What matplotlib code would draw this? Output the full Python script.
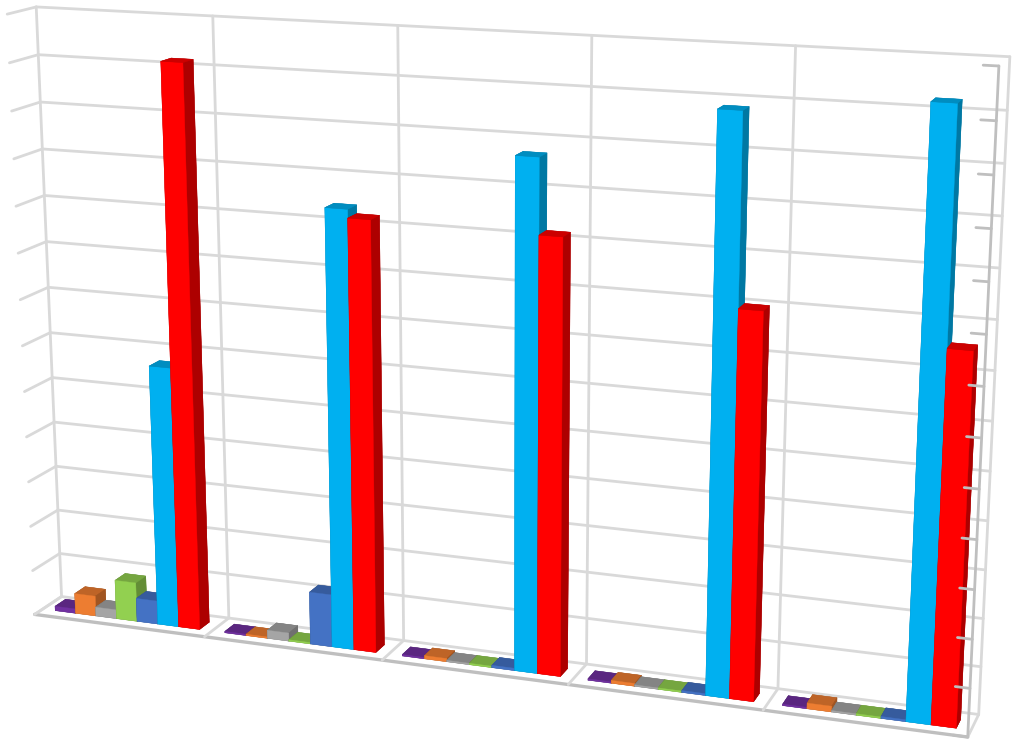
import numpy as np
import matplotlib
matplotlib.use('Agg')
import matplotlib.pyplot as plt
from matplotlib.colors import to_rgb

# значения по группам, высота в делениях оси (подписей на картинке нет)
groups = [0, 1, 2, 3, 4]
series_colors = ['#7030A0', '#ED7D31', '#A5A5A5', '#92D050', '#4472C4', '#00B0F0', '#FF0000']
purple = [0.10, 0.03, 0.03, 0.03, 0.03]
orange = [0.45, 0.03, 0.07, 0.06, 0.12]
gray = [0.20, 0.18, 0.03, 0.03, 0.03]
green = [0.87, 0.03, 0.03, 0.03, 0.03]
blue = [0.52, 1.15, 0.05, 0.04, 0.04]
cyan = [5.72, 9.38, 10.70, 11.85, 12.22]
red = [12.15, 9.20, 9.15, 8.00, 7.57]
series = [purple, orange, gray, green, blue, cyan, red]
n_ticks = 13

GRID = '#D9D9D9'
AXIS = '#BFBFBF'
W, H = 1023, 749

# Калибровка камеры: углы коробки (x, глубина, z) -> пиксели картинки
world_pts = [(0, 1, 13), (1, 1, 13), (2, 1, 13), (3, 1, 13), (4, 1, 13), (5, 1, 13),
             (0, 1, 0), (1, 1, 0), (2, 1, 0), (3, 1, 0), (4, 1, 0), (5, 1, 0),
             (0, 0, 13), (5, 0, 13), (0, 0, 0), (5, 0, 0), (0, 1, 1), (0, 0, 1)]
pixel_pts = [(36, 6), (213, 15), (398, 27), (592, 37), (796, 47), (1010, 55),
             (62, 595), (227, 617), (403, 640), (587, 665), (779, 688), (978, 715),
             (7, 14), (998, 65), (35, 615), (968, 737), (60, 555), (33, 571)]


def fit_camera(world, pixels):
    rows = []
    for (x, y, z), (u, v) in zip(world, pixels):
        u, v = u / 1000, (H - v) / 1000
        rows.append([x, y, z, 1, 0, 0, 0, 0, -u * x, -u * y, -u * z, -u])
        rows.append([0, 0, 0, 0, x, y, z, 1, -v * x, -v * y, -v * z, -v])
    P = np.linalg.svd(np.array(rows, dtype=float))[2][-1].reshape(3, 4)
    if P[2, 3] < 0:
        P = -P
    P[:2] *= 1000
    # третья строка даёт глубину для сортировки граней
    return np.vstack([P[0], P[1], P[2] - np.array([0, 0, 0, 0.5 * P[2, 3]]), P[2]])


def face_colors(hex_color):
    base = np.array(to_rgb(hex_color))
    top = base * 0.8
    side = base * 0.68
    # порядок граней bar3d: низ, верх, перед, зад, лево, право
    return [side, top, base, side, side, side]


def line(ax, xs, ys, zs, color=GRID, lw=2.0, zorder=1):
    ax.plot(xs, ys, zs, color=color, linewidth=lw, zorder=zorder, solid_capstyle='round')


fig = plt.figure(figsize=(W / 100, H / 100), dpi=100)
# mplot3d держит оси квадратными, поэтому квадрат шире фигуры по высоте
ax = fig.add_axes([0, (H - W) / 2 / H, 1, W / H], projection='3d', computed_zorder=False)
ax.set_proj_type('ortho')
ax.set_axis_off()
M = fit_camera(world_pts, pixel_pts)
ax.get_proj = lambda: M

n_groups = len(groups)

# задняя стена
for z in range(n_ticks + 1):
    line(ax, [0, n_groups], [1, 1], [z, z])
    line(ax, [0, 0], [0, 1], [z, z])
for x in range(n_groups + 1):
    line(ax, [x, x], [1, 1], [0, n_ticks])

# пол
line(ax, [0, n_groups], [0, 0], [0, 0], color=AXIS, lw=2.4)
for x in range(n_groups + 1):
    line(ax, [x, x], [0, 1], [0, 0])

# столбцы
bar_w = 0.122
start = 0.075
depth_from = 0.30
depth = 0.39
for g in groups:
    for s, values in enumerate(series):
        ax.bar3d(g + start + s * bar_w, depth_from, 0, bar_w, depth, values[g],
                 color=face_colors(series_colors[s]), shade=False,
                 edgecolor=face_colors(series_colors[s]), linewidth=0.3,
                 zorder=10 + g * 10 + s)

# ось значений справа
line(ax, [n_groups, n_groups], [0, 0], [0, n_ticks], color=AXIS, zorder=100)
for z in range(n_ticks + 1):
    line(ax, [n_groups - 0.07, n_groups], [0, 0], [z, z], color=AXIS, zorder=100)

ax.viewLim.intervalx = (0, W)
ax.viewLim.intervaly = (H / 2 - W / 2, H / 2 + W / 2)

fig.savefig('out.png', dpi=100)
